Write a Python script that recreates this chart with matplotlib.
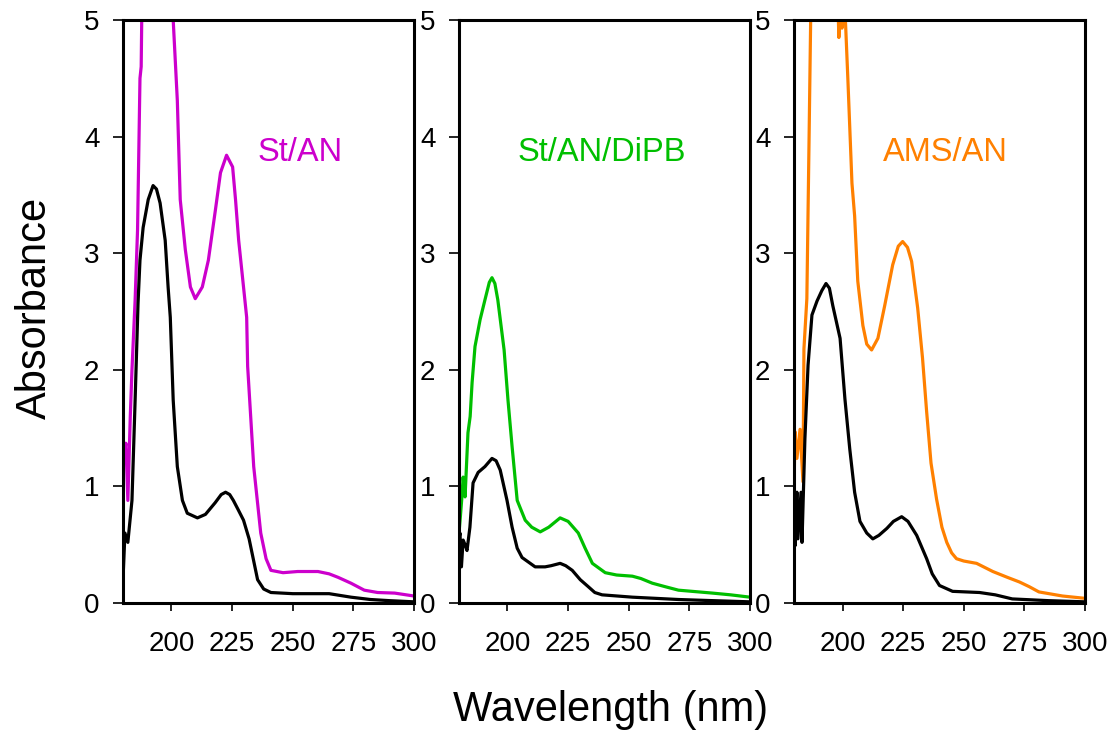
"""UV absorbance spectra of three copolymer systems, each against its reference."""

import matplotlib

matplotlib.use("Agg")
import matplotlib.pyplot as plt

plt.rcParams["font.family"] = ["Liberation Sans", "DejaVu Sans"]

# --- panel 1: St/AN -------------------------------------------------------
st_an_ref_wl = [180, 180.8, 182, 183.7, 185, 186.2, 187, 188.3, 190.4, 192.4,
                193.8, 195.3, 197.4, 198.6, 199.5, 200.7, 202.4, 204.5, 206.5,
                210.7, 214, 218, 220.5, 222.3, 224, 225.5, 227.5, 229.7, 232,
                235.5, 238, 241, 250, 260, 265, 274, 282, 290, 300]
st_an_ref = [0.2, 0.6, 0.52, 0.88, 1.74, 2.57, 2.94, 3.22, 3.46, 3.58,
             3.55, 3.43, 3.11, 2.71, 2.45, 1.74, 1.17, 0.88, 0.77,
             0.73, 0.76, 0.86, 0.93, 0.95, 0.93, 0.88, 0.8, 0.71, 0.55,
             0.2, 0.12, 0.09, 0.08, 0.08, 0.08, 0.05, 0.03, 0.02, 0.01]

st_an_wl = [180, 180.7, 181.2, 182, 183, 183.7, 185, 186, 187, 187.5, 188, 190,
            194, 198, 200.7, 202.4, 203.6, 205.7, 207.8, 209.8, 212.7, 215.2,
            218.1, 220.2, 222.7, 225.2, 226.4, 227.7, 229.7, 231, 231.4, 233.9,
            236.8, 239, 241, 246, 252, 260.4, 265, 268.7, 274, 279.5, 285, 292,
            300]
st_an = [1.42, 1.3, 1.37, 0.88, 1.6, 2.0, 2.6, 3.2, 4.5, 4.6, 5.5, 7.5,
         8.5, 7.0, 5.0, 4.31, 3.46, 3.03, 2.71, 2.61, 2.71, 2.94,
         3.37, 3.69, 3.84, 3.74, 3.46, 3.11, 2.71, 2.45, 2.03, 1.17,
         0.6, 0.38, 0.28, 0.26, 0.27, 0.27, 0.25, 0.22, 0.17, 0.11, 0.09, 0.085,
         0.06]

# --- panel 2: St/AN/DiPB --------------------------------------------------
dipb_ref_wl = [180, 180.4, 181, 181.7, 182.5, 183.3, 184.5, 185.8, 187.9, 190.7,
               193.6, 195.3, 197, 199.8, 201.9, 204, 206, 211.4, 215.5, 218,
               221.7, 224, 226.7, 230, 233.3, 236, 239, 251.5, 270.5, 285, 300]
dipb_ref = [0.55, 0.6, 0.31, 0.54, 0.5, 0.45, 0.65, 1.03, 1.12, 1.17,
            1.24, 1.22, 1.14, 0.88, 0.65, 0.47, 0.39, 0.31, 0.31, 0.32,
            0.34, 0.32, 0.28, 0.2, 0.14, 0.09, 0.07, 0.05, 0.03, 0.02, 0.01]

dipb_wl = [180, 180.6, 181.2, 181.7, 182.5, 183.7, 184.6, 185.4, 186.6, 188.7,
           190.7, 192.5, 193.6, 194.8, 196, 198.6, 200.2, 201.9, 204, 207.3,
           210, 213.5, 217, 221.7, 225, 229.2, 232, 235, 240.3, 245, 251.5,
           255, 259.7, 265, 270.5, 284.5, 292, 300]
dipb = [0.6, 0.75, 0.91, 1.08, 0.91, 1.46, 1.6, 1.89, 2.2, 2.43,
        2.6, 2.75, 2.79, 2.74, 2.6, 2.17, 1.74, 1.34, 0.88, 0.71,
        0.65, 0.61, 0.65, 0.73, 0.7, 0.6, 0.47, 0.34, 0.26, 0.24, 0.23,
        0.21, 0.17, 0.14, 0.11, 0.085, 0.07, 0.05]

# --- panel 3: AMS/AN ------------------------------------------------------
ams_ref_wl = [180, 180.4, 181.2, 181.6, 182.9, 183.3, 184.5, 185.8, 187.4, 189.5,
              191.5, 193.2, 194.6, 196, 199, 201, 203, 205, 207.2, 210, 212.5,
              215, 218.3, 221, 224.4, 227, 230.6, 234.7, 237, 240, 245.4, 256.5,
              263, 270, 285, 300]
ams_ref = [0.95, 0.49, 0.95, 0.55, 0.95, 0.52, 1.41, 2.04, 2.47, 2.59,
           2.68, 2.74, 2.7, 2.55, 2.27, 1.75, 1.32, 0.95, 0.7, 0.6, 0.55,
           0.58, 0.64, 0.7, 0.74, 0.7, 0.58, 0.38, 0.25, 0.15, 0.1, 0.09,
           0.07, 0.035, 0.02, 0.01]

ams_wl = [180, 180.4, 181.2, 182.5, 183.7, 184.1, 185.3, 186.2, 187, 189, 193,
          197, 198.5, 199.2, 199.8, 200.5, 201, 202.2, 203.9, 205, 206.3,
          208.4, 210, 212, 214.6, 217.4, 220.7, 223, 224.8, 226.8, 228.5, 231,
          233, 234.7, 236.5, 238.8, 241, 243, 245, 247, 250, 255.3, 262, 268,
          273, 277, 281, 290.7, 300]
ams = [0.95, 1.47, 1.24, 1.49, 1.04, 2.18, 2.61, 3.96, 5.2, 7.0, 8.0,
       6.0, 4.85, 5.2, 4.93, 5.2, 5.1, 4.5, 3.6, 3.32, 2.76,
       2.38, 2.22, 2.17, 2.27, 2.55, 2.9, 3.06, 3.1, 3.05, 2.93, 2.53,
       2.1, 1.64, 1.2, 0.89, 0.65, 0.52, 0.43, 0.38, 0.36, 0.34, 0.27, 0.22,
       0.18, 0.14, 0.095, 0.06, 0.04]

panel_names = ["St/AN", "St/AN/DiPB", "AMS/AN"]
panel_colors = ["#cc00cc", "#00bf00", "#ff8000"]
label_x = [235.5, 204.0, 216.6]
x_ticks = [200, 225, 250, 275, 300]
y_ticks = [0, 1, 2, 3, 4, 5]

series = [
    (st_an_ref_wl, st_an_ref, st_an_wl, st_an),
    (dipb_ref_wl, dipb_ref, dipb_wl, dipb),
    (ams_ref_wl, ams_ref, ams_wl, ams),
]

fig = plt.figure(figsize=(11.11, 7.33), dpi=100)
lefts = [123, 459, 794]
for i, left in enumerate(lefts):
    ax = fig.add_axes([left / 1111, 130 / 733, 291 / 1111, 583 / 733])
    ref_wl, ref, wl, vals = series[i]
    ax.plot(wl, vals, color=panel_colors[i], lw=2.3, solid_joinstyle="round")
    ax.plot(ref_wl, ref, color="black", lw=2.3, solid_joinstyle="round")
    ax.text(label_x[i], 3.86, panel_names[i], color=panel_colors[i],
            fontsize=23.5, ha="left", va="center")
    ax.set_xlim(180, 300)
    ax.set_ylim(0, 5)
    ax.set_xticks(x_ticks)
    ax.set_yticks(y_ticks)
    for sp in ax.spines.values():
        sp.set_linewidth(2.2)
    ax.tick_params(axis="x", direction="out", length=6, width=1.2,
                   labelsize=20, pad=14)
    ax.tick_params(axis="y", direction="out", length=7, width=1.2,
                   labelsize=20, pad=10)

fig.text(35 / 1111, 1 - 308 / 733, "Absorbance", rotation=90, fontsize=30,
         ha="center", va="center")
fig.text(611 / 1111, 1 - 710 / 733, "Wavelength (nm)", fontsize=30,
         ha="center", va="center")

fig.savefig("out.png", dpi=100)
plt.close(fig)
